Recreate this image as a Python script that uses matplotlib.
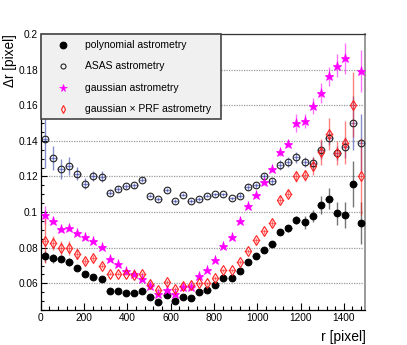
import numpy as np
import matplotlib
matplotlib.use('Agg')
import matplotlib.pyplot as plt
from matplotlib.patches import Rectangle
from matplotlib.ticker import MultipleLocator

plt.rcParams['font.family'] = ['Liberation Sans', 'DejaVu Sans']

# bin centres in r [pixel]
r = [18.75, 56.25, 93.75, 131.25, 168.75, 206.25, 243.75, 281.25, 318.75, 356.25,
     393.75, 431.25, 468.75, 506.25, 543.75, 581.25, 618.75, 656.25, 693.75, 731.25,
     768.75, 806.25, 843.75, 881.25, 918.75, 956.25, 993.75, 1031.25, 1068.75, 1106.25,
     1143.75, 1181.25, 1218.75, 1256.25, 1293.75, 1331.25, 1368.75, 1406.25, 1443.75, 1481.25]
r_half = 18.75

poly = [0.0752, 0.0741, 0.0737, 0.0720, 0.0687, 0.0653, 0.0638, 0.0623, 0.0554, 0.0557,
        0.0545, 0.0546, 0.0558, 0.0525, 0.0497, 0.0535, 0.0501, 0.0525, 0.0516, 0.0549,
        0.0562, 0.0592, 0.0628, 0.0628, 0.0671, 0.0718, 0.0756, 0.0786, 0.0818, 0.0890,
        0.0909, 0.0956, 0.0943, 0.0980, 0.1042, 0.1076, 0.0993, 0.0984, 0.1159, 0.0937]
poly_err = [0.003, 0.0025, 0.002, 0.002, 0.0015, 0.001, 0.001, 0.001, 0.001, 0.001,
            0.001, 0.001, 0.001, 0.001, 0.001, 0.001, 0.001, 0.001, 0.001, 0.001,
            0.001, 0.001, 0.001, 0.001, 0.001, 0.001, 0.001, 0.001, 0.0012, 0.0015,
            0.002, 0.0023, 0.0037, 0.0034, 0.005, 0.006, 0.0066, 0.0075, 0.013, 0.0117]

asas = [0.1409, 0.1304, 0.1242, 0.1261, 0.1216, 0.1160, 0.1203, 0.1199, 0.1109, 0.1130,
        0.1145, 0.1150, 0.1183, 0.1092, 0.1074, 0.1123, 0.1062, 0.1098, 0.1063, 0.1074,
        0.1093, 0.1100, 0.1100, 0.1077, 0.1093, 0.1140, 0.1151, 0.1201, 0.1172, 0.1265,
        0.1281, 0.1307, 0.1284, 0.1273, 0.1350, 0.1418, 0.1331, 0.1363, 0.1500, 0.1390]
asas_err = [0.016, 0.0065, 0.0056, 0.005, 0.0035, 0.003, 0.003, 0.003, 0.0015, 0.0015,
            0.0015, 0.0015, 0.0015, 0.001, 0.001, 0.001, 0.001, 0.001, 0.001, 0.001,
            0.001, 0.001, 0.001, 0.001, 0.0012, 0.0015, 0.0015, 0.002, 0.002, 0.0028,
            0.0028, 0.0033, 0.0028, 0.0038, 0.005, 0.004, 0.004, 0.006, 0.015, 0.016]

gauss = [0.0985, 0.0952, 0.0903, 0.0908, 0.0881, 0.0858, 0.0839, 0.0804, 0.0736, 0.0706,
         0.0670, 0.0651, 0.0623, 0.0584, 0.0540, 0.0565, 0.0540, 0.0581, 0.0578, 0.0640,
         0.0675, 0.0730, 0.0807, 0.0862, 0.0951, 0.1034, 0.1094, 0.1168, 0.1240, 0.1335,
         0.1385, 0.1500, 0.1512, 0.1596, 0.1667, 0.1762, 0.1822, 0.1863, np.nan, 0.1792]
gauss_err = [0.005, 0.002, 0.0015, 0.0012, 0.001, 0.001, 0.001, 0.001, 0.001, 0.001,
             0.001, 0.001, 0.001, 0.001, 0.001, 0.001, 0.001, 0.001, 0.001, 0.001,
             0.001, 0.001, 0.001, 0.001, 0.001, 0.001, 0.0012, 0.0015, 0.0015, 0.002,
             0.002, 0.005, 0.004, 0.0047, 0.0056, 0.0053, 0.0066, 0.0085, 0.0, 0.0117]

gprf = [0.0840, 0.0825, 0.0800, 0.0798, 0.0767, 0.0725, 0.0742, 0.0700, 0.0654, 0.0654,
        0.0654, 0.0647, 0.0651, 0.0596, 0.0565, 0.0606, 0.0570, 0.0586, 0.0589, 0.0600,
        0.0600, 0.0630, 0.0672, 0.0672, 0.0720, 0.0783, 0.0841, 0.0892, 0.0938, 0.1070,
        0.1104, 0.1200, 0.1207, 0.1258, 0.1337, 0.1440, 0.1333, 0.1390, 0.1604, 0.1200]
gprf_err = [0.0127, 0.0038, 0.004, 0.004, 0.003, 0.0015, 0.0015, 0.0015, 0.001, 0.001,
            0.001, 0.001, 0.001, 0.001, 0.001, 0.001, 0.001, 0.001, 0.001, 0.001,
            0.001, 0.001, 0.001, 0.001, 0.001, 0.001, 0.0012, 0.0015, 0.0015, 0.002,
            0.002, 0.003, 0.003, 0.005, 0.0075, 0.009, 0.0066, 0.012, 0.018, 0.0216]

labels = ['polynomial astrometry', 'ASAS astrometry', 'gaussian astrometry',
          'gaussian × PRF astrometry']

fig = plt.figure(figsize=(4.07, 3.45), dpi=100)
ax = fig.add_axes([0.1, 0.1014, 0.798, 0.8])

ax.set_xlim(0, 1500)
ax.set_ylim(0.045, 0.20001)

# grid
ax.yaxis.grid(True, color='#9a9a9a', linestyle=(0, (1, 1)), linewidth=0.9)
ax.set_axisbelow(True)

styles = [
    dict(marker='o', ms=4.8, mfc='black', mec='black', mew=0.8, ecolor=(0.1, 0.1, 0.1, 0.6)),
    dict(marker='o', ms=4.8, mfc='none', mec='#222222', mew=0.8, ecolor=(0.2, 0.25, 0.65, 0.6)),
    dict(marker='*', ms=6.5, mfc='#ff00ff', mec='#ff00ff', mew=0.5, ecolor=(1.0, 0.0, 1.0, 0.55)),
    dict(marker='d', ms=5.0, mfc='none', mec='#ff2020', mew=0.8, ecolor=(1.0, 0.1, 0.1, 0.55)),
]
legend_ms = [4.8, 3.6, 5.5, 4.2]
series = [(poly, poly_err), (asas, asas_err), (gauss, gauss_err), (gprf, gprf_err)]

for (y, e), st in zip(series, styles):
    ax.errorbar(r, y, yerr=e, xerr=r_half * 0.9, fmt='none', ecolor=st['ecolor'],
                elinewidth=1.0, capsize=0, zorder=2)
    ax.plot(r, y, linestyle='none', marker=st['marker'], ms=st['ms'], mfc=st['mfc'],
            mec=st['mec'], mew=st['mew'], zorder=3)

# ticks
ax.xaxis.set_major_locator(MultipleLocator(200))
ax.xaxis.set_minor_locator(MultipleLocator(40))
ax.yaxis.set_major_locator(MultipleLocator(0.02))
ax.yaxis.set_minor_locator(MultipleLocator(0.005))
ax.tick_params(axis='both', which='both', direction='in', top=False, right=False,
               labelsize=7.3, width=0.8)
ax.tick_params(axis='x', which='major', length=5, pad=2.5)
ax.tick_params(axis='x', which='minor', length=2.7)
ax.tick_params(axis='y', which='major', length=4.3, pad=2)
ax.tick_params(axis='y', which='minor', length=2.2)
ax.yaxis.set_major_formatter(matplotlib.ticker.FuncFormatter(lambda v, p: ('%g' % round(v, 3))))

ax.spines['left'].set_linewidth(0.9)
ax.spines['bottom'].set_linewidth(0.9)
ax.spines['top'].set_color('#333333')
ax.spines['top'].set_linewidth(0.9)
ax.spines['right'].set_color('#9a9a9a')
ax.spines['right'].set_linewidth(1.4)

ax.set_xlabel('r [pixel]', fontsize=10)
ax.xaxis.set_label_coords(1.0, -0.098)
ax.xaxis.label.set(ha='right', va='center')
ax.set_ylabel('Δr [pixel]', fontsize=9.8)
ax.yaxis.set_label_coords(-0.072, 1.0)
ax.yaxis.label.set(ha='right', va='bottom')

# legend box
ax.add_patch(Rectangle((0, 0.692), 0.555, 0.308, transform=ax.transAxes,
                       facecolor='#f0f0f0', edgecolor='#444444', linewidth=1.2,
                       zorder=5, clip_on=False))
rows = [0.960, 0.884, 0.804, 0.728]
for yy, st, lab, lms in zip(rows, styles, labels, legend_ms):
    ax.plot([0.0687], [yy], transform=ax.transAxes, linestyle='none',
            marker=st['marker'], ms=lms, mfc=st['mfc'], mec=st['mec'],
            mew=st['mew'], zorder=6, clip_on=False)
    ax.text(0.1364, yy, lab, transform=ax.transAxes, fontsize=7.5, va='center',
            ha='left', zorder=6)

fig.savefig('out.png', dpi=100)
